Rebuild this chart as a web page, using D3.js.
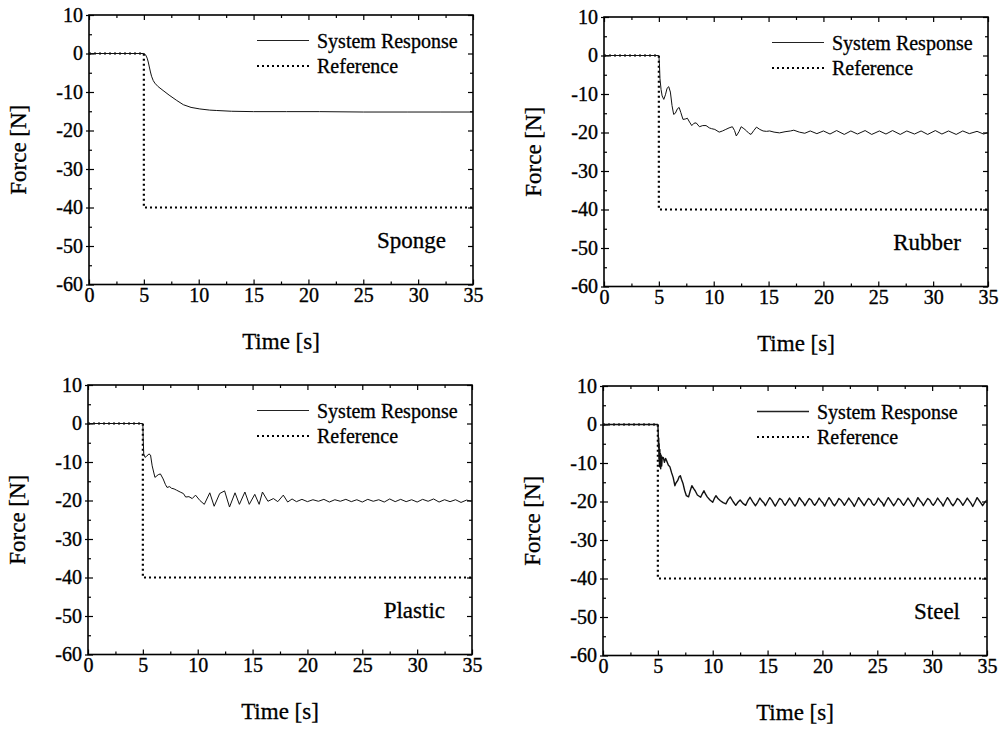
<!DOCTYPE html>
<html>
<head>
<meta charset="utf-8">
<script src="https://cdn.jsdelivr.net/npm/d3@7"></script>
<style>
html,body{margin:0;padding:0;background:#fff;}
svg{display:block;}
</style>
</head>
<body>
<script>
// ---------------- DATA ----------------
const timeTicks = [0, 5, 10, 15, 20, 25, 30, 35];
const minorTimeTicks = [2.5, 7.5, 12.5, 17.5, 22.5, 27.5, 32.5];
const forceTicks = [-60, -50, -40, -30, -20, -10, 0, 10];
const minorForceTicks = [-55, -45, -35, -25, -15, -5, 5];
const panelNames = ["Sponge", "Rubber", "Plastic", "Steel"];
const legendLabels = ["System Response", "Reference"];
const xTitle = "Time [s]";
const yTitle = "Force [N]";

// reference step (time, force)
const referenceSeries = [[0, 0], [5, 0], [5, -40], [35, -40]];

const spongeResponse = [
  [0,0],[5,0],[5.15,-0.3],[5.3,-1.2],[5.4,-2.2],[5.5,-3.5],[5.6,-4.8],[5.7,-5.9],[5.85,-7],[6,-7.7],
  [6.3,-8.6],[6.75,-9.6],[7.3,-10.8],[8,-12.2],[8.6,-13.3],[9.3,-14],[10.1,-14.4],[11,-14.7],
  [11.6,-14.8],[13,-15],[15,-15.1],[18,-15.1],[21,-15.1],[25,-15.2],[29,-15.2],[32,-15.2],[35,-15.2]
];

const rubberResponse = [
  [0,0],[5,0],[5.05,-2],[5.1,-6],[5.2,-8.8],[5.3,-10.5],[5.45,-11.4],[5.6,-10.2],[5.75,-8.5],[5.9,-8.1],
  [6.05,-9.5],[6.2,-13],[6.35,-15.3],[6.5,-15],[6.7,-13.8],[6.85,-13.5],[7,-14.8],[7.2,-16.6],[7.4,-16.5],
  [7.6,-16.3],[7.8,-17.3],[8,-18.2],[8.2,-17.6],[8.4,-17.5],[8.7,-18.5],[9,-18.2],[9.3,-18.2],[9.6,-18.8],
  [9.8,-19],[10.1,-19.2],[10.5,-19.9],[10.8,-19.6],[11.1,-19.2],[11.4,-18.8],[11.7,-18.5],[11.9,-19.5],
  [12.06,-20.9],[12.3,-19.8],[12.5,-18.5],[12.75,-19],[13,-19.6],[13.2,-20.2],[13.4,-20.5],[13.65,-19.5],
  [13.9,-18.6],[14.2,-19.2],[14.5,-19.6],[14.8,-19.7],[15.1,-19.6],[15.5,-19.9],[16,-20.1],[16.5,-19.8],
  [17,-19.6],[17.3,-19.4],[17.8,-19.9],[18.3,-20.2],[18.8,-19.6],[19.4,-20.3],[20,-19.6],[20.6,-20.4],
  [21.2,-19.5],[21.9,-20.5],[22.5,-19.6],[23.1,-20.4],[23.8,-19.5],[24.4,-20.5],[25.1,-19.6],[25.7,-20.4],
  [26.3,-19.5],[27,-20.5],[27.6,-19.6],[28.3,-20.4],[28.9,-19.6],[29.5,-20.5],[30.2,-19.5],[30.8,-20.4],
  [31.4,-19.6],[32.1,-20.5],[32.7,-19.6],[33.3,-20.3],[34,-19.7],[34.6,-20.4],[35,-20]
];

const plasticResponse = [
  [0,0],[5,0],[5.03,-4],[5.08,-7.9],[5.2,-8.8],[5.35,-8.5],[5.55,-7.9],[5.7,-8.2],[5.85,-11],[6.1,-14],
  [6.4,-13.3],[6.6,-13.1],[6.85,-14.4],[7.05,-15.8],[7.2,-16.6],[7.45,-16.4],[7.6,-16.8],[7.85,-17],
  [8.06,-17.3],[8.4,-17.8],[8.7,-18.2],[8.9,-19.1],[9.2,-19],[9.5,-19.5],[9.8,-18.6],[10.2,-20],
  [10.6,-21],[11.1,-18],[11.5,-21.5],[12,-18.2],[12.45,-17.5],[12.9,-21.7],[13.4,-18],[13.8,-21],
  [14.3,-17.8],[14.7,-21],[15.2,-18.4],[15.6,-21],[15.9,-17.8],[16.4,-20.2],[16.9,-19.5],[17.3,-20.3],
  [17.8,-18.6],[18.2,-20.4],[18.6,-19.6],[19,-20.3],[19.5,-19.7],[20,-20.3],[20.5,-19.8],[21,-20.2],
  [21.5,-19.7],[22,-20.4],[22.5,-19.8],[23,-20.2],[23.5,-19.7],[24,-20.3],[24.5,-19.8],[25,-20.4],
  [25.5,-19.7],[26,-20.2],[26.5,-19.8],[27,-20.4],[27.5,-19.6],[28,-20.3],[28.5,-19.7],[29,-20.3],
  [29.5,-19.8],[30,-20.4],[30.5,-19.7],[31,-20.2],[31.5,-19.6],[32,-20.4],[32.5,-19.8],[33,-20.3],
  [33.5,-19.8],[34,-20.5],[34.5,-19.9],[35,-20.2]
];

const steelResponse = [
  [0,0],[5,0],[5.03,-2],[5.06,-6],[5.08,-3.5],[5.1,-9],[5.12,-5],[5.15,-11],[5.18,-6.5],[5.2,-10.5],
  [5.23,-7.5],[5.26,-11.5],[5.3,-8],[5.35,-10.8],[5.4,-8.5],[5.5,-8.6],[5.6,-9.8],[5.7,-8.8],[5.8,-9.4],
  [5.95,-10.5],[6.1,-11],[6.25,-12.5],[6.4,-13.8],[6.55,-15.9],[6.65,-15.2],[6.8,-14.6],[6.95,-13.5],
  [7.05,-13.3],[7.15,-14.2],[7.3,-15.4],[7.45,-17.2],[7.6,-18.5],[7.8,-18.8],[7.95,-17.2],[8.1,-15.9],
  [8.25,-16.6],[8.4,-17.2],[8.6,-18.3],[8.9,-18.9],[9.05,-18],[9.2,-17.2],[9.35,-18.1],[9.5,-18.8],
  [9.75,-19.6],[10,-20.2],[10.15,-19.2],[10.3,-18.5],[10.5,-19.3],[10.7,-19.8],[10.95,-20.3],[11.2,-20.6],
  [11.4,-19.5],[11.6,-18.8],[11.85,-20],[12.1,-21],[12.3,-20.2],[12.5,-19.6],[12.75,-20.5],[13,-21],
  [13.2,-19.8],[13.4,-18.9],[13.65,-20.1],[13.9,-21.1],[14.1,-20.2],
  [14.3,-19.1],[14.5,-19.9],[14.65,-20.3],[14.8,-21.1],[15.0,-20.0],
  [15.2,-19.0],[15.4,-19.7],[15.55,-20.5],[15.7,-21.2],[15.9,-20.2],
  [16.1,-19.2],[16.3,-19.6],[16.45,-20.4],[16.6,-21.0],[16.8,-20.1],
  [17.0,-19.1],[17.2,-19.9],[17.35,-20.6],[17.5,-21.2],[17.7,-20.3],
  [17.9,-19.0],[18.1,-19.8],[18.25,-20.3],[18.4,-21.1],[18.6,-20.1],
  [18.8,-19.2],[19.0,-19.7],[19.15,-20.5],[19.3,-21.0],[19.5,-20.2],
  [19.7,-19.1],[19.9,-19.9],[20.05,-20.4],[20.2,-21.2],[20.4,-20.0],
  [20.6,-19.0],[20.8,-19.8],[20.95,-20.6],[21.1,-21.1],[21.3,-20.3],
  [21.5,-19.2],[21.7,-19.7],[21.85,-20.3],[22.0,-21.0],[22.2,-20.1],
  [22.4,-19.1],[22.6,-19.9],[22.75,-20.5],[22.9,-21.3],[23.1,-20.2],
  [23.3,-19.0],[23.5,-19.8],[23.65,-20.4],[23.8,-21.1],[24.0,-20.1],
  [24.2,-19.2],[24.4,-19.7],[24.55,-20.6],[24.7,-21.0],[24.9,-20.3],
  [25.1,-19.1],[25.3,-19.9],[25.45,-20.3],[25.6,-21.2],[25.8,-20.0],
  [26.0,-19.0],[26.2,-19.8],[26.35,-20.5],[26.5,-21.1],[26.7,-20.2],
  [26.9,-19.2],[27.1,-19.7],[27.25,-20.4],[27.4,-21.0],[27.6,-20.1],
  [27.8,-19.1],[28.0,-19.9],[28.15,-20.6],[28.3,-21.3],[28.5,-20.3],
  [28.7,-19.0],[28.9,-19.8],[29.05,-20.3],[29.2,-21.1],[29.4,-20.1],
  [29.6,-19.2],[29.8,-19.7],[29.95,-20.5],[30.1,-21.0],[30.3,-20.2],
  [30.5,-19.1],[30.7,-19.9],[30.85,-20.4],[31.0,-21.2],[31.2,-20.0],
  [31.4,-19.0],[31.6,-19.8],[31.75,-20.6],[31.9,-21.1],[32.1,-20.3],
  [32.3,-19.2],[32.5,-19.7],[32.65,-20.3],[32.8,-21.0],[33.0,-20.1],
  [33.2,-19.1],[33.4,-19.9],[33.55,-20.5],[33.7,-21.3],[33.9,-20.2],
  [34.1,-19.0],[34.3,-19.8],[34.45,-20.4],[34.6,-21.1],[34.8,-20.2],
  [35.0,-19.6]
];

const responses = [spongeResponse, rubberResponse, plasticResponse, steelResponse];

// ---------------- LAYOUT ----------------
const layout = [
  {left: 89,  top: 15,  legendX: 168, lineW: 1.0},
  {left: 604, top: 17,  legendX: 168, lineW: 1.0},
  {left: 88,  top: 385, legendX: 169, lineW: 1.0},
  {left: 603, top: 386, legendX: 154, lineW: 1.4}
];
const W = 384, H = 269.5;
const FONT = "'Liberation Serif', 'Times New Roman', serif";

const svg = d3.select("body").append("svg")
  .attr("width", 1004).attr("height", 729)
  .style("background", "#fff");

const x = d3.scaleLinear().domain([0, 35]).range([0, W]);
const y = d3.scaleLinear().domain([-60, 10]).range([H, 0]);
const line = d3.line().x(d => x(d[0])).y(d => y(d[1]));

function styleAxis(sel, showText) {
  sel.select(".domain").remove();
  sel.selectAll(".tick line").attr("stroke", "#000").attr("stroke-width", 1.2);
  sel.attr("font-family", FONT).attr("font-size", 20);
  sel.selectAll(".tick text").attr("fill", "#000")
    .attr("stroke", "#000").attr("stroke-width", 0.35);
  if (!showText) sel.selectAll(".tick text").remove();
}

function heavyText(sel, size) {
  return sel.attr("font-family", FONT).attr("font-size", size).attr("fill", "#000")
    .attr("stroke", "#000").attr("stroke-width", 0.3);
}

layout.forEach((L, i) => {
  const g = svg.append("g").attr("transform", `translate(${L.left},${L.top})`);

  // bottom axis: labels + inward ticks
  g.append("g").attr("transform", `translate(0,${H})`)
    .call(d3.axisBottom(x).tickValues(timeTicks).tickSize(0).tickPadding(3).tickFormat(d => String(d)))
    .call(s => styleAxis(s, true));
  g.append("g").attr("transform", `translate(0,${H})`)
    .call(d3.axisBottom(x).tickValues(timeTicks).tickSize(-5).tickFormat(""))
    .call(s => styleAxis(s, false));
  g.append("g").attr("transform", `translate(0,${H})`)
    .call(d3.axisBottom(x).tickValues(minorTimeTicks).tickSize(-3).tickFormat(""))
    .call(s => styleAxis(s, false));
  // top axis: inward ticks
  g.append("g")
    .call(d3.axisTop(x).tickValues(timeTicks).tickSize(-5).tickFormat(""))
    .call(s => styleAxis(s, false));
  g.append("g")
    .call(d3.axisTop(x).tickValues(minorTimeTicks).tickSize(-3).tickFormat(""))
    .call(s => styleAxis(s, false));

  // left axis: outward ticks + labels, inward ticks
  g.append("g")
    .call(d3.axisLeft(y).tickValues(forceTicks).tickSize(3).tickPadding(3).tickFormat(d => String(d)))
    .call(s => styleAxis(s, true));
  g.append("g")
    .call(d3.axisLeft(y).tickValues(forceTicks).tickSize(-5).tickFormat(""))
    .call(s => styleAxis(s, false));
  g.append("g")
    .call(d3.axisLeft(y).tickValues(minorForceTicks).tickSize(-3).tickFormat(""))
    .call(s => styleAxis(s, false));
  // right axis: inward ticks
  g.append("g").attr("transform", `translate(${W},0)`)
    .call(d3.axisRight(y).tickValues(forceTicks).tickSize(-5).tickFormat(""))
    .call(s => styleAxis(s, false));
  g.append("g").attr("transform", `translate(${W},0)`)
    .call(d3.axisRight(y).tickValues(minorForceTicks).tickSize(-3).tickFormat(""))
    .call(s => styleAxis(s, false));

  // frame
  g.append("rect").attr("x", 0).attr("y", 0).attr("width", W).attr("height", H)
    .attr("fill", "none").attr("stroke", "#000").attr("stroke-width", 1.6);

  // reference (dotted)
  g.append("path").datum(referenceSeries).attr("d", line)
    .attr("fill", "none").attr("stroke", "#000").attr("stroke-width", 2.2)
    .attr("stroke-dasharray", "2,3");

  // system response
  g.append("path").datum(responses[i]).attr("d", line)
    .attr("fill", "none").attr("stroke", "#111").attr("stroke-width", L.lineW)
    .attr("stroke-linejoin", "round");

  // legend
  const lg = g.append("g").attr("transform", `translate(${L.legendX},0)`);
  lg.append("line").attr("x1", 0).attr("x2", 52).attr("y1", 25.5).attr("y2", 25.5)
    .attr("stroke", "#222").attr("stroke-width", L.lineW);
  lg.append("text").attr("x", 60).attr("y", 32.5).text(legendLabels[0]).call(s => heavyText(s, 20));
  lg.append("line").attr("x1", 0).attr("x2", 52).attr("y1", 51).attr("y2", 51)
    .attr("stroke", "#000").attr("stroke-width", 2.2).attr("stroke-dasharray", "2,3");
  lg.append("text").attr("x", 60).attr("y", 58).text(legendLabels[1]).call(s => heavyText(s, 20));

  // panel label
  g.append("text").attr("x", W - 27).attr("y", 233).attr("text-anchor", "end")
    .text(panelNames[i]).call(s => heavyText(s, 23));

  // axis titles
  g.append("text").attr("x", W / 2).attr("y", H + 64).attr("text-anchor", "middle")
    .text(xTitle).call(s => heavyText(s, 23));
  g.append("text").attr("transform", `translate(-63,${H / 2}) rotate(-90)`)
    .attr("text-anchor", "middle")
    .text(yTitle).call(s => heavyText(s, 23));
});
</script>
</body>
</html>
